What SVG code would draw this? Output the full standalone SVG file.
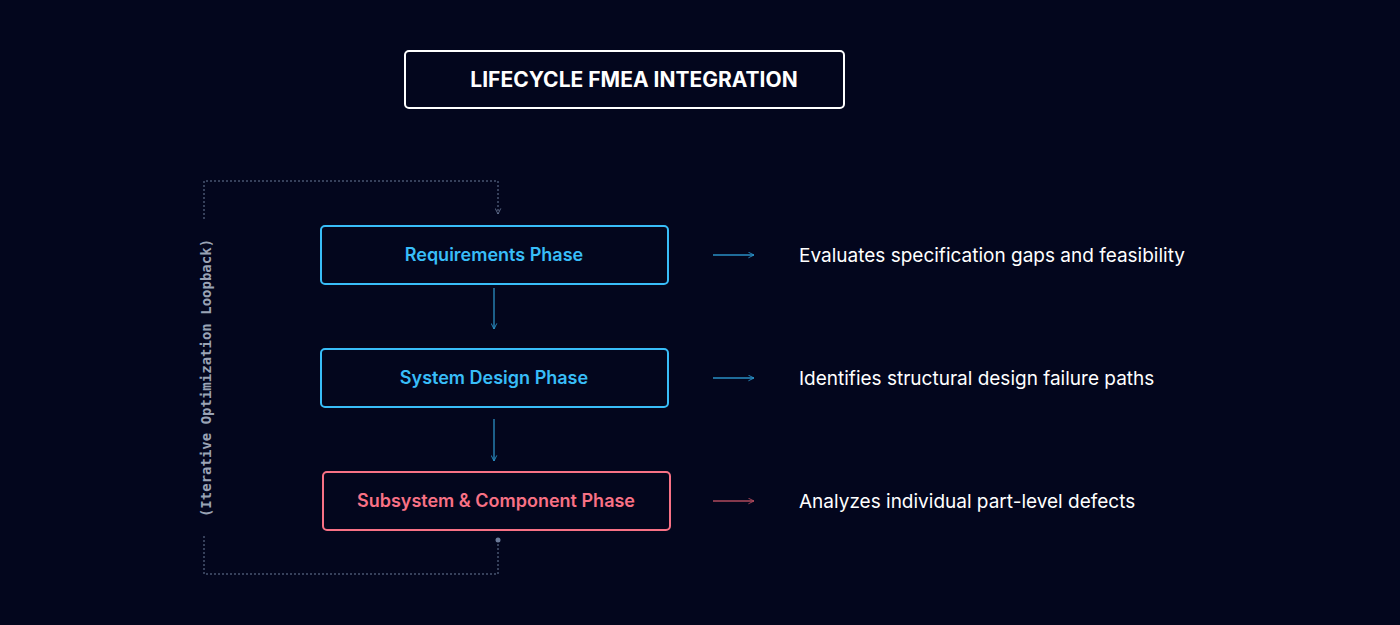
<svg xmlns="http://www.w3.org/2000/svg" width="1400" height="625" viewBox="0 0 1400 625">
<defs>
<marker id="ab" viewBox="0 0 10 10" refX="9" refY="5" markerWidth="7" markerHeight="7" orient="auto" markerUnits="userSpaceOnUse"><path d="M1,1 L9,5 L1,9" fill="none" stroke="#2a8fc4" stroke-width="1.3"/></marker>
<marker id="ar" viewBox="0 0 10 10" refX="9" refY="5" markerWidth="7" markerHeight="7" orient="auto" markerUnits="userSpaceOnUse"><path d="M1,1 L9,5 L1,9" fill="none" stroke="#b04a5c" stroke-width="1.3"/></marker>
<marker id="ag" viewBox="0 0 10 10" refX="9" refY="5" markerWidth="7" markerHeight="7" orient="auto" markerUnits="userSpaceOnUse"><path d="M1,1 L9,5 L1,9" fill="none" stroke="#6b7a99" stroke-width="1.2"/></marker>
</defs>
<style>
.t{font-family:Inter,"Liberation Sans",sans-serif}
.node{fill:#03061d;stroke-width:2}
.b{stroke:#38bdf8}.r{stroke:#f87185}
.lbl{font-size:18px;font-weight:600;text-anchor:middle}
.desc{font-size:19px;fill:#ffffff}
</style>
<rect width="1400" height="625" fill="#03061d"/>
<g id="title"><rect x="405" y="51" width="439" height="57" rx="4" fill="none" stroke="#ffffff" stroke-width="2"/>
<text class="t" x="634" y="87" font-size="21" font-weight="700" fill="#fff" text-anchor="middle">LIFECYCLE FMEA INTEGRATION</text></g>
<g id="connectors" fill="none">
<line x1="494" y1="288" x2="494" y2="329" stroke="#2a8fc4" stroke-width="1.3" marker-end="url(#ab)"/>
<line x1="494" y1="419" x2="494" y2="461" stroke="#2a8fc4" stroke-width="1.3" marker-end="url(#ab)"/>
<line x1="713" y1="255" x2="754" y2="255" stroke="#2a8fc4" stroke-width="1.3" marker-end="url(#ab)"/>
<line x1="713" y1="378" x2="754" y2="378" stroke="#2a8fc4" stroke-width="1.3" marker-end="url(#ab)"/>
<line x1="713" y1="501" x2="754" y2="501" stroke="#b04a5c" stroke-width="1.3" marker-end="url(#ar)"/>
<path d="M498,540 V574 H204 V536" stroke="#6b7a99" stroke-width="1" stroke-dasharray="2,2"/>
<path d="M204,219 V181 H498 V214" stroke="#6b7a99" stroke-width="1" stroke-dasharray="2,2" marker-end="url(#ag)"/>
<circle cx="498" cy="540" r="2.5" fill="#6b7a99"/>
</g>
<text x="211" y="378" transform="rotate(-90 211 378)" font-family="'DejaVu Sans Mono','Liberation Mono',monospace" font-size="14" font-weight="700" fill="#9aa3b5" text-anchor="middle">(Iterative Optimization Loopback)</text>
<g id="n1"><rect class="node b" x="321" y="226" width="347" height="58" rx="4"/><text class="t lbl" x="494" y="261" fill="#38bdf8">Requirements Phase</text></g>
<g id="n2"><rect class="node b" x="321" y="349" width="347" height="58" rx="4"/><text class="t lbl" x="494" y="384" fill="#38bdf8">System Design Phase</text></g>
<g id="n3"><rect class="node r" x="323" y="472" width="347" height="58" rx="4"/><text class="t lbl" x="496" y="507" fill="#f87185">Subsystem &amp; Component Phase</text></g>
<g id="d1"><text class="t desc" x="799" y="262">Evaluates specification gaps and feasibility</text></g>
<g id="d2"><text class="t desc" x="799" y="385">Identifies structural design failure paths</text></g>
<g id="d3"><text class="t desc" x="799" y="508">Analyzes individual part-level defects</text></g>
</svg>
